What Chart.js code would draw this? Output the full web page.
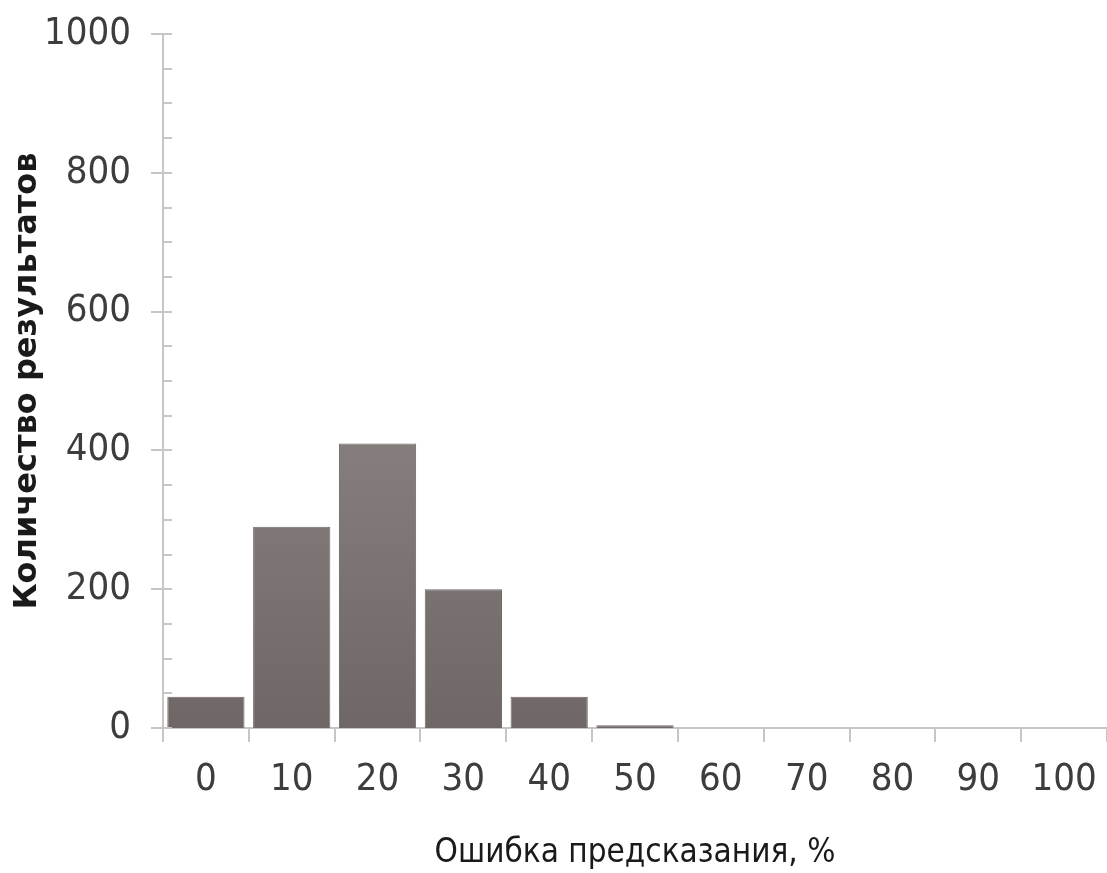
<!DOCTYPE html>
<html>
<head>
<meta charset="utf-8">
<script src="https://cdn.jsdelivr.net/npm/chart.js@4/dist/chart.umd.min.js"></script>
<style>
html,body{margin:0;padding:0;background:#fff;}
#wrap{width:1107px;height:873px;}
</style>
</head>
<body>
<div id="wrap"><canvas id="c" width="1107" height="873"></canvas></div>
<script>
const categories = ['0','10','20','30','40','50','60','70','80','90','100'];
const counts = [45, 290, 410, 200, 45, 4, 0, 0, 0, 0, 0];
const yMin = 0, yMax = 1000, yMinorStep = 50, yMajorStep = 200;
const xTitle = 'Ошибка предсказания, %';
const yTitle = 'Количество результатов';

const axisColor = '#c9c5c5';
const textColor = '#3d3d3d';
const tickFont = "'Liberation Sans Narrow','DejaVu Sans Condensed',sans-serif";

const tickPlugin = {
  id: 'yticks',
  afterDraw(chart) {
    const ctx = chart.ctx;
    const y = chart.scales.y;
    const x0 = chart.chartArea.left;
    ctx.save();
    ctx.strokeStyle = axisColor;
    ctx.lineWidth = 2;
    for (let v = yMin; v <= yMax; v += yMinorStep) {
      const py = Math.round(y.getPixelForValue(v));
      const major = v % yMajorStep === 0;
      ctx.beginPath();
      ctx.moveTo(major ? x0 - 12 : x0, py);
      ctx.lineTo(x0 + 9, py);
      ctx.stroke();
    }
    ctx.beginPath();
    ctx.moveTo(x0, chart.chartArea.bottom);
    ctx.lineTo(x0, chart.chartArea.bottom + 14);
    ctx.stroke();
    ctx.restore();
  }
};

const ctx = document.getElementById('c').getContext('2d');
new Chart(ctx, {
  type: 'bar',
  data: {
    labels: categories,
    datasets: [{
      data: counts,
      backgroundColor: (c) => {
        const ch = c.chart, a = ch.chartArea;
        if (!a) return '#7d7573';
        const g = ch.ctx.createLinearGradient(0, a.top, 0, a.bottom);
        g.addColorStop(0, '#918987');
        g.addColorStop(0.6, '#857d7b');
        g.addColorStop(1, '#6f6765');
        return g;
      },
      borderColor: '#6e6664',
      borderWidth: 1,
      barPercentage: 0.9,
      categoryPercentage: 1.0
    }]
  },
  plugins: [tickPlugin],
  options: {
    responsive: false,
    animation: false,
    layout: { padding: { top: 34, right: 0, bottom: 0, left: 8 } },
    plugins: { legend: { display: false }, tooltip: { enabled: false } },
    scales: {
      x: {
        offset: true,
        afterFit(s) { s.paddingRight = 0; s.paddingLeft = 0; s.height = 145; },
        grid: { offset: true, drawOnChartArea: false, drawTicks: true, tickLength: 14, color: axisColor, lineWidth: 2 },
        border: { display: true, color: axisColor, width: 2 },
        ticks: { color: textColor, padding: 15, font: { family: tickFont, size: 38 } },
        title: { display: true, text: xTitle, color: '#1a1a1a', padding: { top: 8, bottom: 0 }, font: { family: tickFont, size: 33 } }
      },
      y: {
        min: yMin, max: yMax,
        afterFit(s) { s.width = 155; s.paddingTop = 0; s.paddingBottom = 0; },
        grid: { display: false, drawTicks: false },
        border: { display: true, color: axisColor, width: 2 },
        ticks: {
          stepSize: yMinorStep,
          autoSkip: false,
          padding: 32,
          color: textColor,
          font: { family: tickFont, size: 38 },
          callback: (v) => (v % yMajorStep === 0 ? String(v) : '')
        },
        title: { display: true, text: yTitle, color: '#1a1a1a', padding: { top: 0, bottom: 0 }, font: { family: "'DejaVu Sans',sans-serif", size: 32, weight: 'bold' } }
      }
    }
  }
});
</script>
</body>
</html>
